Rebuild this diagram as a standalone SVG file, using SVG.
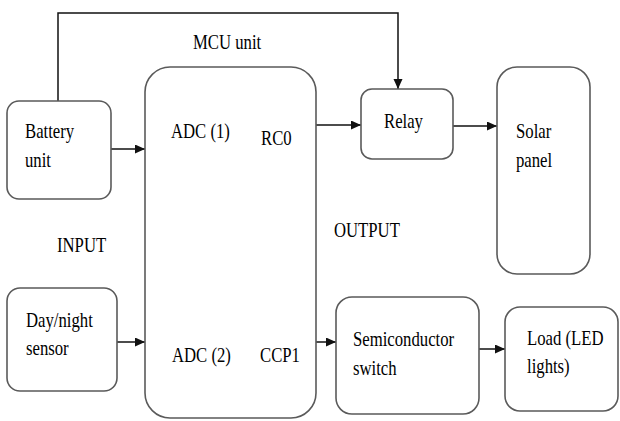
<svg xmlns="http://www.w3.org/2000/svg" width="620" height="421" viewBox="0 0 620 421">
<defs>
<marker id="arr" markerUnits="userSpaceOnUse" markerWidth="11" markerHeight="10" refX="10" refY="4.5" orient="auto">
<path d="M0,0 L10,4.5 L0,9 Z" fill="#111"/>
</marker>
</defs>
<rect width="620" height="421" fill="#fff"/>
<g id="connectors" fill="none" stroke="#111" stroke-width="1.5">
<path d="M58,101 V13 H398 V89" marker-end="url(#arr)"/>
<path d="M111,149 H145" marker-end="url(#arr)"/>
<path d="M316,125 H361" marker-end="url(#arr)"/>
<path d="M453,126 H497" marker-end="url(#arr)"/>
<path d="M117,342 H145" marker-end="url(#arr)"/>
<path d="M316,342 H336" marker-end="url(#arr)"/>
<path d="M479,349 H505" marker-end="url(#arr)"/>
</g>
<g id="labels">
<text font-family="Liberation Serif" font-size="22" transform="matrix(0.76 0 0 1 193 49)">MCU unit</text>
<text font-family="Liberation Serif" font-size="22" transform="matrix(0.76 0 0 1 57 252)">INPUT</text>
<text font-family="Liberation Serif" font-size="22" transform="matrix(0.76 0 0 1 334 237)">OUTPUT</text>
</g>
<g id="battery">
<rect x="7" y="101" width="104" height="98" rx="12" fill="#fff" stroke="#5a5a5a" stroke-width="1.6"/>
<text font-family="Liberation Serif" font-size="22" transform="matrix(0.76 0 0 1 25 138)">Battery</text>
<text font-family="Liberation Serif" font-size="22" transform="matrix(0.76 0 0 1 25 167)">unit</text>
</g>
<g id="mcu">
<rect x="145" y="67" width="171" height="351" rx="25" fill="#fff" stroke="#5a5a5a" stroke-width="1.6"/>
<text font-family="Liberation Serif" font-size="22" transform="matrix(0.76 0 0 1 171 138)">ADC (1)</text>
<text font-family="Liberation Serif" font-size="22" transform="matrix(0.76 0 0 1 261 145)">RC0</text>
<text font-family="Liberation Serif" font-size="22" transform="matrix(0.76 0 0 1 172 362)">ADC (2)</text>
<text font-family="Liberation Serif" font-size="22" transform="matrix(0.76 0 0 1 260 362)">CCP1</text>
</g>
<g id="relay">
<rect x="361" y="89" width="92" height="70" rx="11" fill="#fff" stroke="#5a5a5a" stroke-width="1.6"/>
<text font-family="Liberation Serif" font-size="22" transform="matrix(0.76 0 0 1 384 128)">Relay</text>
</g>
<g id="solar">
<rect x="497" y="67" width="93" height="207" rx="20" fill="#fff" stroke="#5a5a5a" stroke-width="1.6"/>
<text font-family="Liberation Serif" font-size="22" transform="matrix(0.76 0 0 1 516 138)">Solar</text>
<text font-family="Liberation Serif" font-size="22" transform="matrix(0.76 0 0 1 516 167)">panel</text>
</g>
<g id="daynight">
<rect x="7" y="288" width="110" height="103" rx="13" fill="#fff" stroke="#5a5a5a" stroke-width="1.6"/>
<text font-family="Liberation Serif" font-size="22" transform="matrix(0.76 0 0 1 26 327)">Day/night</text>
<text font-family="Liberation Serif" font-size="22" transform="matrix(0.76 0 0 1 26 355)">sensor</text>
</g>
<g id="switch">
<rect x="336" y="297" width="143" height="117" rx="16" fill="#fff" stroke="#5a5a5a" stroke-width="1.6"/>
<text font-family="Liberation Serif" font-size="22" transform="matrix(0.76 0 0 1 353 346)">Semiconductor</text>
<text font-family="Liberation Serif" font-size="22" transform="matrix(0.76 0 0 1 353 375)">switch</text>
</g>
<g id="load">
<rect x="505" y="307" width="113" height="104" rx="15" fill="#fff" stroke="#5a5a5a" stroke-width="1.6"/>
<text font-family="Liberation Serif" font-size="22" transform="matrix(0.76 0 0 1 527 345)">Load (LED</text>
<text font-family="Liberation Serif" font-size="22" transform="matrix(0.76 0 0 1 527 373)">lights)</text>
</g>
</svg>
